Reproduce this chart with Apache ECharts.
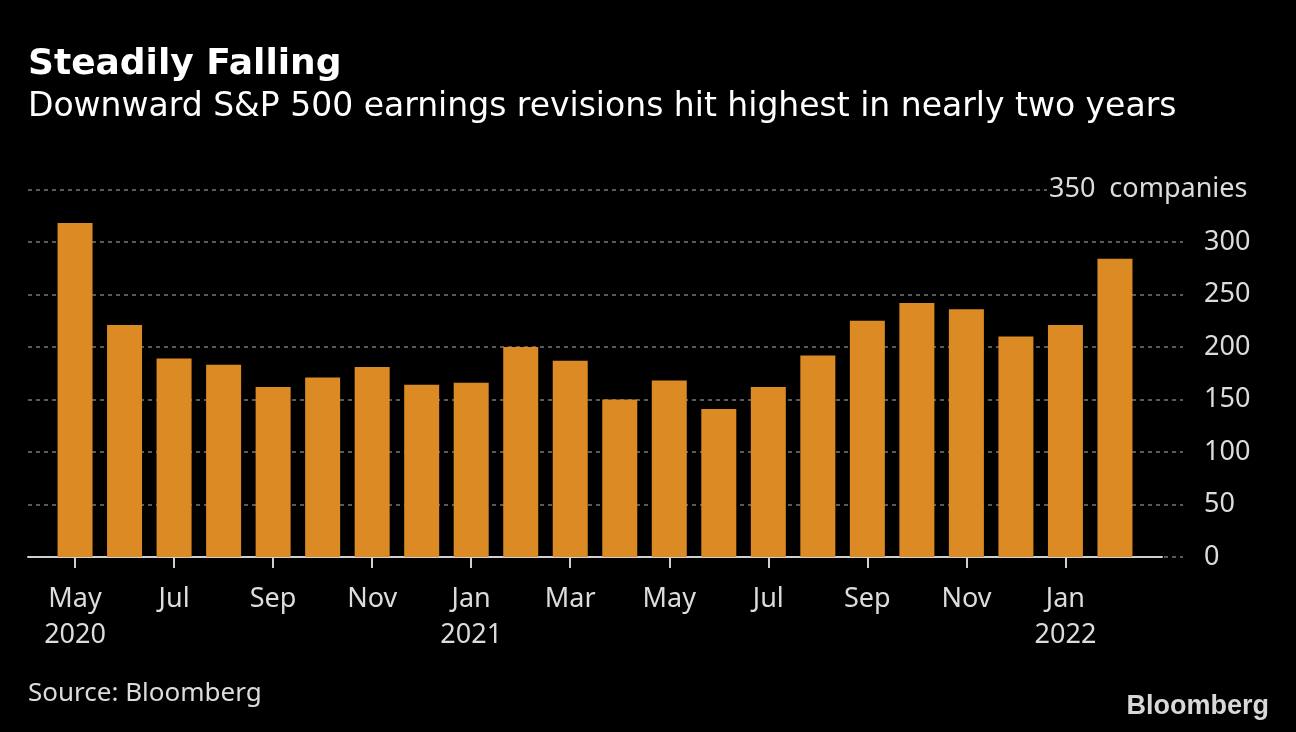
<!DOCTYPE html>
<html><head><meta charset="utf-8">
<script src="https://cdn.jsdelivr.net/npm/echarts@6/dist/echarts.min.js"></script>
<style>html,body{margin:0;padding:0;background:#000;}#c{width:1296px;height:732px;}</style>
</head><body><div id="c"></div>
<script>
const months = ['2020-05','2020-06','2020-07','2020-08','2020-09','2020-10','2020-11','2020-12',
  '2021-01','2021-02','2021-03','2021-04','2021-05','2021-06','2021-07','2021-08','2021-09','2021-10','2021-11','2021-12',
  '2022-01','2022-02'];
const revisions = [318,221,189,183,162,171,181,164,166,200,187,150,168,141,162,192,225,242,236,210,221,284];
const tickIndex = [0,2,4,6,8,10,12,14,16,18,20];
const tickLabels = ['May\n2020','Jul','Sep','Nov','Jan\n2021','Mar','May','Jul','Sep','Nov','Jan\n2022'];
const yTicks = [0,50,100,150,200,250,300,350];

const FONT = 'Noto Sans';
const TFONT = 'DejaVu Sans';
const TXT = '#dcdcdc';
const GRID = '#5a5a5a';
const chart = echarts.init(document.getElementById('c'), null, {renderer:'canvas'});
const gTop = 189.5, gBottom = 175;
chart.setOption({
  backgroundColor:'#000',
  animation:false,
  title:[
    {text:'Steadily Falling', left:23, top:42, textStyle:{color:'#fff', fontFamily:TFONT, fontWeight:'bold', fontSize:36}},
    {text:'Downward S&P 500 earnings revisions hit highest in nearly two years', left:23, top:86, textStyle:{color:'#fff', fontFamily:TFONT, fontWeight:'normal', fontSize:33}},
    {text:'Source: Bloomberg', left:23, top:676, textStyle:{color:TXT, fontFamily:FONT, fontWeight:'normal', fontSize:26}},
    {text:'Bloomberg', right:22, top:688, textStyle:{color:'#d8d8d8', fontFamily:'Liberation Sans', fontWeight:'bold', fontSize:27}}
  ],
  grid:[
    {left:28, right:113, top:gTop, bottom:gBottom},
    {left:28, right:134, top:gTop, bottom:gBottom},
    {left:28, right:249, top:gTop, bottom:gBottom}
  ],
  xAxis:[
    {gridIndex:0, type:'value', min:0, max:1, show:false},
    {gridIndex:1, type:'value', min:-0.95, max:21.95,
      axisLine:{show:true, onZero:false, lineStyle:{color:'#d0d0d0', width:2}},
      axisTick:{show:true, length:11, customValues:tickIndex, lineStyle:{color:'#d0d0d0', width:2}},
      axisLabel:{show:true, customValues:tickIndex, margin:24, color:TXT, fontFamily:FONT, fontSize:27, lineHeight:36,
        formatter:function(v){ const k = tickIndex.indexOf(Math.round(v)); return k>=0 ? tickLabels[k] : ''; }},
      splitLine:{show:false}},
    {gridIndex:2, type:'value', min:0, max:1, show:false}
  ],
  yAxis:[
    {gridIndex:0, type:'value', position:'right', min:0, max:350, interval:50,
      axisLine:{show:false}, axisTick:{show:false},
      axisLabel:{show:true, align:'left', margin:21, color:TXT, fontFamily:FONT, fontSize:27, showMaxLabel:false},
      splitLine:{show:true, showMaxLine:false, lineStyle:{type:[4,4], width:2, color:GRID}}},
    {gridIndex:1, type:'value', min:0, max:350, interval:50, show:false},
    {gridIndex:2, type:'value', position:'right', min:0, max:350, interval:350,
      axisLine:{show:false}, axisTick:{show:false},
      axisLabel:{show:true, align:'left', margin:2, color:TXT, fontFamily:FONT, fontSize:27,
        formatter:function(v){ return v===350 ? yTicks[yTicks.length-1] + '  companies' : ''; }},
      splitLine:{show:true, showMinLine:false, lineStyle:{type:[4,4], width:2, color:GRID}}}
  ],
  series:[{
    type:'bar', xAxisIndex:1, yAxisIndex:1, barWidth:35,
    data: revisions.map((v,i)=>[i,v]),
    itemStyle:{color:'#db8a24'},
    z:3
  }]
});
</script></body></html>
